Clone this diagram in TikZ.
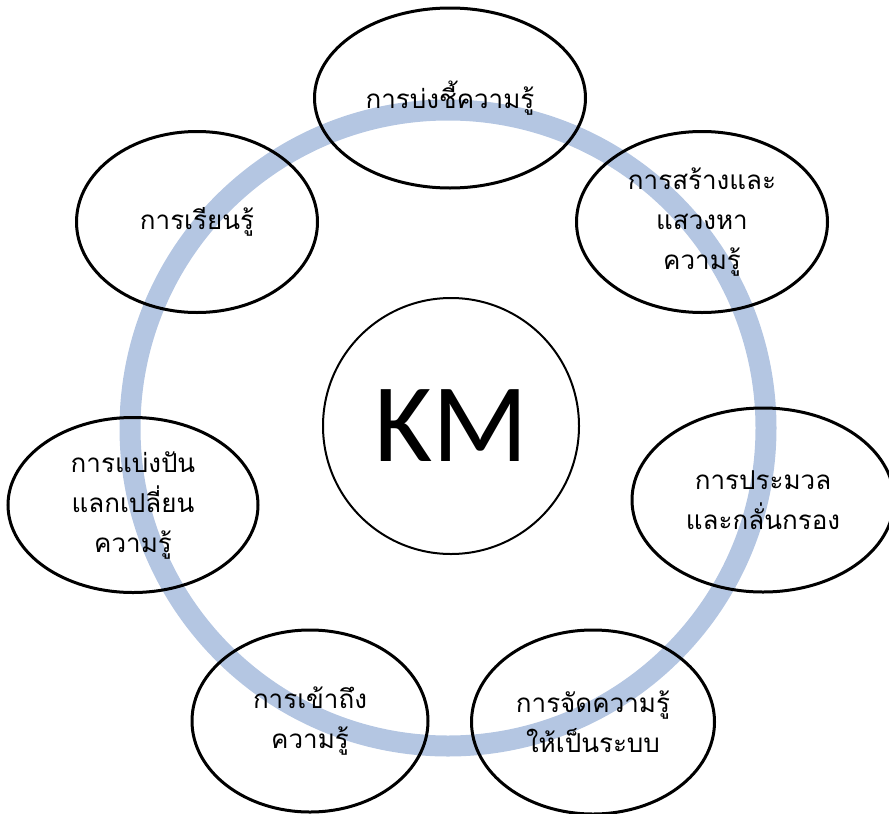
\documentclass[tikz,border=0pt]{standalone}
\usepackage{fontspec}
\setmainfont{Carlito}
\newfontfamily\thaifont[Script=Thai]{Loma}
\usetikzlibrary{shapes.geometric}
\definecolor{ringblue}{HTML}{B4C6E2}
\tikzset{
x=1pt, y=-1pt, % work in pixels of the sketch, y going down
ring/.style={circle, draw=ringblue, line width=21pt, inner sep=0pt}, % the cycle behind everything
bubble/.style={ellipse, draw, line width=3pt, inner sep=0pt, align=center,
  font=\thaifont\fontsize{26}{40}\selectfont}, % one step of the cycle
hub/.style={circle, draw, line width=2pt, inner sep=0pt, minimum size=256pt,
  font=\fontsize{112}{112}\selectfont}, % KM in the middle
}
\begin{document}
\begin{tikzpicture}
                \useasboundingbox (0,0) rectangle (889,814);
                \node[ring, minimum size=636pt] at (448,428) (cycle) {};

                \node[hub] at (451,426) (km) {KM};

                \node[bubble, minimum width=271pt, minimum height=180pt] at (450,98) (identify) {การบ่งชี้ความรู้};
                \node[bubble, minimum width=251pt, minimum height=181pt] at (702,222) (create) {การสร้างและ\\แสวงหา\\ความรู้};
                \node[bubble, minimum width=262pt, minimum height=184pt] at (763,500) (refine) {การประมวล\\และกลั่นกรอง};
                \node[bubble, minimum width=243pt, minimum height=184pt] at (593,722) (organize) {การจัดความรู้\\ให้เป็นระบบ};
                \node[bubble, minimum width=236pt, minimum height=182pt] at (310,721) (access) {การเข้าถึง\\ความรู้};
                \node[bubble, minimum width=250pt, minimum height=175pt] at (133,505) (share) {การแบ่งปัน\\แลกเปลี่ยน\\ความรู้};
                \node[bubble, minimum width=241pt, minimum height=181pt] at (197,222) (learn) {การเรียนรู้};
            \end{tikzpicture}
\end{document}
